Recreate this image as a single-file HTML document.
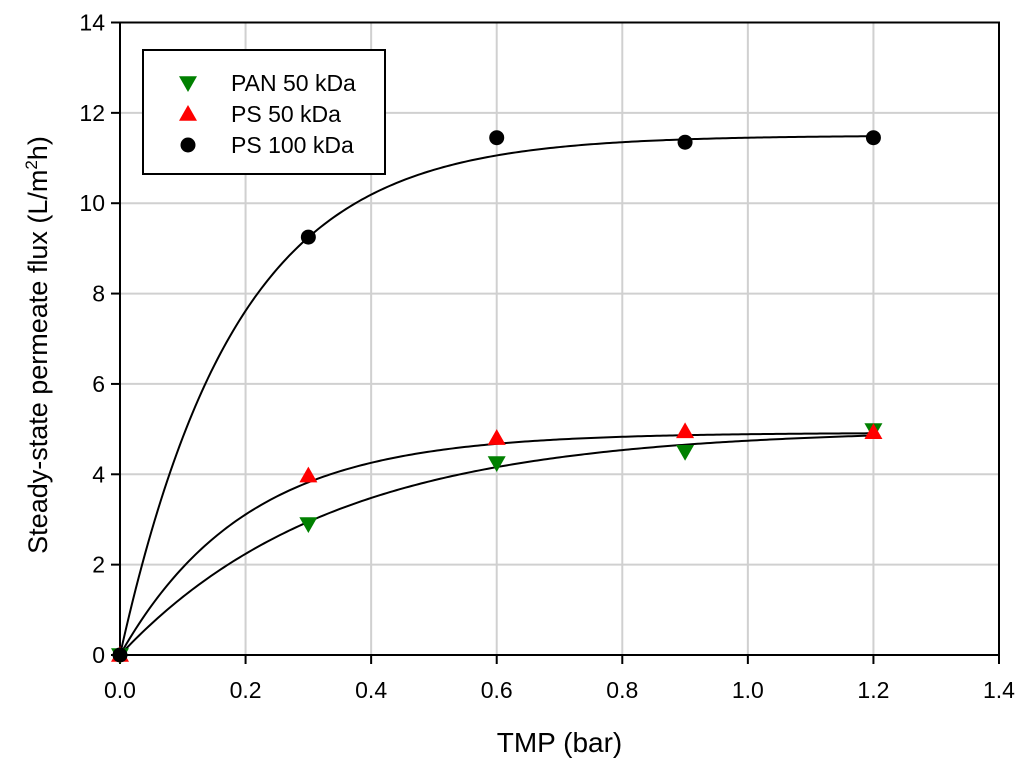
<!DOCTYPE html>
<html><head><meta charset="utf-8"><style>
body{margin:0;background:#fff;}
text{font-family:"Liberation Sans",Arial,sans-serif;}
</style></head><body>
<svg id="chart" width="1024" height="773" xmlns="http://www.w3.org/2000/svg"></svg>
<script>
const xTicks=[0,0.2,0.4,0.6,0.8,1.0,1.2,1.4];
const yTicks=[0,2,4,6,8,10,12,14];
const tmp=[0,0.3,0.6,0.9,1.2];
const pan50=[0,2.9,4.25,4.5,4.98];
const ps50=[0,3.97,4.8,4.95,4.93];
const ps100=[0,9.25,11.45,11.35,11.45];
const fitPan=[5.0,2.97];
const fitPs50=[4.92,5.0];
const fitPs100=[11.5,5.43];
const L=120,R=999,T=22.5,B=655;
const sx=v=>L+(v-0)/(1.4)*(R-L);
const sy=v=>B-(v/14)*(B-T);
const svg=document.getElementById('chart');
const NS='http://www.w3.org/2000/svg';
function mk(tag,attrs,parent){const e=document.createElementNS(NS,tag);for(const k in attrs)e.setAttribute(k,attrs[k]);(parent||svg).appendChild(e);return e;}
const grid=mk('g',{});


xTicks.slice(1,-1).forEach(v=>{mk('line',{x1:sx(v),x2:sx(v),y1:T,y2:B,stroke:'#d0d0d0','stroke-width':2},grid);});
yTicks.slice(1,-1).forEach(v=>{mk('line',{x1:L,x2:R,y1:sy(v),y2:sy(v),stroke:'#d0d0d0','stroke-width':2},grid);});
const frame=mk('rect',{x:L,y:T,width:R-L,height:B-T,fill:'none',stroke:'#000','stroke-width':2});


const xa=mk('g',{});


xTicks.forEach(v=>{mk('line',{x1:sx(v),x2:sx(v),y1:B,y2:B+9,stroke:'#000','stroke-width':2},xa);
const t=mk('text',{x:sx(v),y:B+43,'text-anchor':'middle','font-size':23},xa);t.textContent=v.toFixed(1);});
const ya=mk('g',{});


yTicks.forEach(v=>{mk('line',{x1:L-9,x2:L,y1:sy(v),y2:sy(v),stroke:'#000','stroke-width':2},ya);
const t=mk('text',{x:L-15,y:sy(v)+8,'text-anchor':'end','font-size':23},ya);t.textContent=v;});
const xt=mk('text',{x:(L+R)/2,y:752,'text-anchor':'middle','font-size':28});


xt.textContent='TMP (bar)';
const yt=mk('text',{transform:'translate(47,345) rotate(-90)','text-anchor':'middle','font-size':27});


yt.innerHTML='Steady-state permeate flux (L/m<tspan dy="-10" font-size="17">2</tspan><tspan dy="10">h)</tspan>';
function curve(p,name){let d='';for(let i=0;i<=240;i++){const x=1.2*i/240;const y=p[0]*(1-Math.exp(-p[1]*x));d+=(i?'L':'M')+sx(x).toFixed(2)+','+sy(y).toFixed(2);}
const c=mk('path',{d:d,fill:'none',stroke:'#000','stroke-width':2});

}
curve(fitPs100,'fit-ps-100');curve(fitPs50,'fit-ps-50');curve(fitPan,'fit-pan-50');
function tri(x,y,up,col,parent){const s=9;const pts=up?[[x,y-s],[x-s,y+s*0.75],[x+s,y+s*0.75]]:[[x,y+s],[x-s,y-s*0.75],[x+s,y-s*0.75]];
return mk('polygon',{points:pts.map(p=>p.join(',')).join(' '),fill:col},parent);}
const gPan=mk('g',{});


tmp.forEach((x,i)=>{tri(sx(x),sy(pan50[i]),false,'#008000',gPan);});
const gPs50=mk('g',{});


tmp.forEach((x,i)=>{tri(sx(x),sy(ps50[i]),true,'#ff0000',gPs50);});
const gPs100=mk('g',{});


tmp.forEach((x,i)=>{mk('circle',{cx:sx(x),cy:sy(ps100[i]),r:7.5,fill:'#000'},gPs100);});
const lg=mk('g',{});


mk('rect',{x:143,y:50,width:242,height:124,fill:'#fff',stroke:'#000','stroke-width':2},lg);
const names=['PAN 50 kDa','PS 50 kDa','PS 100 kDa'];
names.forEach((n,i)=>{const y=83+i*31;
if(i==0)tri(188,y,false,'#008000',lg);else if(i==1)tri(188,y,true,'#ff0000',lg);else mk('circle',{cx:188,cy:y,r:7.5,fill:'#000'},lg);
const t=mk('text',{x:231,y:y+8,'font-size':23},lg);t.textContent=n;});
</script>
</body></html>
